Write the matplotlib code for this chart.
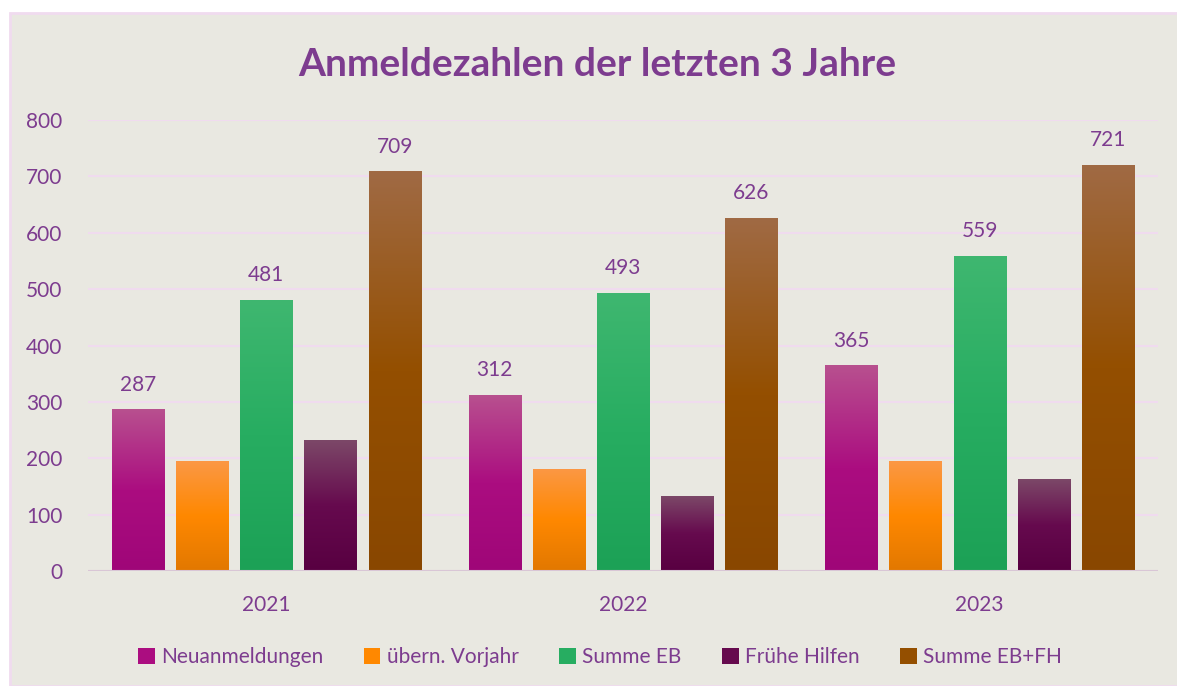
import numpy as np
import matplotlib.pyplot as plt
from matplotlib.colors import LinearSegmentedColormap
from matplotlib.patches import Rectangle

plt.rcParams['font.family'] = ['Lato', 'DejaVu Sans']

# data
years = ['2021', '2022', '2023']
series = ['Neuanmeldungen', 'übern. Vorjahr', 'Summe EB', 'Frühe Hilfen', 'Summe EB+FH']
neuanmeldungen = [287, 312, 365]
uebern_vorjahr = [195, 181, 195]
summe_eb = [481, 493, 559]
fruehe_hilfen = [232, 133, 163]
summe_eb_fh = [709, 626, 721]
labelled = [True, False, True, False, True]

values = [neuanmeldungen, uebern_vorjahr, summe_eb, fruehe_hilfen, summe_eb_fh]

# gradient colours: bottom, middle, top
gradients = [
    ('#9f0678', '#ab0d80', '#b8508f'),
    ('#e27800', '#ff8800', '#fb9845'),
    ('#1ca156', '#27ad61', '#3fb770'),
    ('#580041', '#660a4e', '#7c4868'),
    ('#894700', '#944f00', '#a06a44'),
]

purple = '#7d3c8f'
bg = '#e9e8e1'
grid_col = '#f0dbef'

fig = plt.figure(figsize=(11.77, 6.86), dpi=100)
fig.patch.set_facecolor('white')
panel = Rectangle((10 / 1177, 0), 1.0, 673 / 686, transform=fig.transFigure,
                  facecolor=bg, edgecolor=grid_col, linewidth=2, zorder=-5)
fig.add_artist(panel)

ax = fig.add_axes([88 / 1177, 115 / 686, 1070 / 1177, 451 / 686], zorder=2)
ax.set_facecolor('none')

x = np.arange(len(years))
step = 0.18
width = 0.146

for i, (vals, cols) in enumerate(zip(values, gradients)):
    cmap = LinearSegmentedColormap.from_list('g%d' % i, list(cols))
    grad = np.linspace(0, 1, 256).reshape(-1, 1)
    pos = x + (i - 2) * step
    bars = ax.bar(pos, vals, width, color=cols[1], zorder=2, label=series[i])
    for b in bars:
        x0, y0 = b.get_x(), b.get_y()
        w, h = b.get_width(), b.get_height()
        im = ax.imshow(grad, cmap=cmap, aspect='auto', origin='lower',
                       extent=(x0, x0 + w, y0, y0 + h), zorder=3)
        im.set_clip_path(b)
    if labelled[i]:
        for xp, v in zip(pos, vals):
            ax.text(xp, v + 26, str(v), ha='center', va='bottom',
                    color=purple, fontsize=15)

ax.set_xlim(-0.5, 2.5)
ax.set_ylim(0, 800)
ax.set_yticks(np.arange(0, 801, 100))
ax.grid(axis='y', color=grid_col, linewidth=1.5, zorder=0)
ax.set_axisbelow(True)
for s in ax.spines.values():
    s.set_visible(False)
ax.tick_params(length=0, colors=purple, labelsize=15)
ax.tick_params(axis='y', pad=18.5)
ax.tick_params(axis='x', pad=17)
ax.set_xticks(x)
ax.set_xticklabels(years)
for lab in ax.get_yticklabels() + ax.get_xticklabels():
    lab.set_color(purple)
ax.axhline(0, color='#d9c6d6', linewidth=1.5, zorder=4)

fig.text(597 / 1177, 1 - 64 / 686, 'Anmeldezahlen der letzten 3 Jahre', ha='center', va='center',
         color=purple, fontsize=28, fontweight='bold')

handles = [Rectangle((0, 0), 1, 1, facecolor=c[1]) for c in gradients]
leg = fig.legend(handles, series, loc='center', bbox_to_anchor=(600 / 1177, 1 - 657 / 686),
                 ncol=5, frameon=False, fontsize=15, handlelength=0.8, handleheight=0.8,
                 handletextpad=0.3, columnspacing=1.95)
for t in leg.get_texts():
    t.set_color(purple)

fig.savefig('out.png', dpi=100, facecolor=fig.get_facecolor())
